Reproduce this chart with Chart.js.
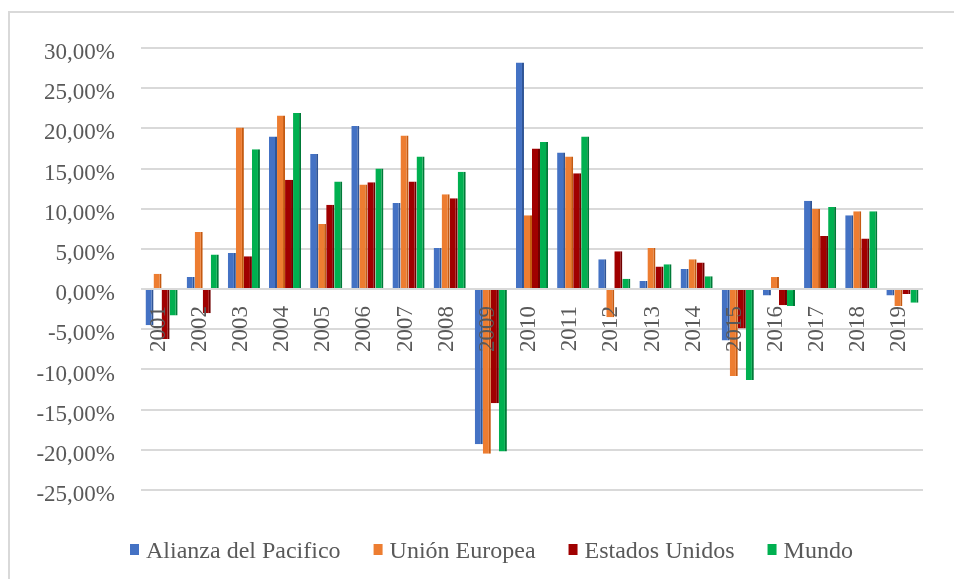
<!DOCTYPE html>
<html>
<head>
<meta charset="utf-8">
<script src="https://cdn.jsdelivr.net/npm/chart.js@4.4.1/dist/chart.umd.min.js"></script>
<style>
  html, body { margin: 0; padding: 0; background: #ffffff; }
  #wrap { position: relative; width: 954px; height: 579px; overflow: hidden; }
  #frame { position: absolute; left: 8px; top: 11px; width: 960px; height: 600px;
           border-top: 2px solid #d9d9d9; border-left: 2px solid #d9d9d9; box-sizing: border-box; }
  canvas { position: absolute; left: 0; top: 0; }
</style>
</head>
<body>
<div id="wrap">
  <div id="frame"></div>
  <canvas id="c" width="954" height="579"></canvas>
</div>
<script>
// ---- data (percent) ----
const years = ['2001','2002','2003','2004','2005','2006','2007','2008','2009','2010',
               '2011','2012','2013','2014','2015','2016','2017','2018','2019'];
const seriesNames = ['Alianza del Pacifico', 'Unión Europea', 'Estados Unidos', 'Mundo'];
const alianzaPacifico = [-4.5, 1.5, 4.5, 19.0, 16.8, 20.3, 10.7, 5.1, -19.3, 28.2,
                         17.0, 3.7, 1.0, 2.5, -6.4, -0.8, 11.0, 9.2, -0.8];
const unionEuropea   = [1.9, 7.1, 20.1, 21.6, 8.1, 13.0, 19.1, 11.8, -20.5, 9.2,
                         16.5, -3.5, 5.1, 3.7, -10.8, 1.5, 10.0, 9.7, -2.1];
const estadosUnidos  = [-6.2, -3.0, 4.1, 13.6, 10.5, 13.3, 13.4, 11.3, -14.2, 17.5,
                         14.4, 4.7, 2.8, 3.3, -4.9, -2.0, 6.6, 6.3, -0.6];
const mundo          = [-3.3, 4.3, 17.4, 21.9, 13.4, 15.0, 16.5, 14.6, -20.2, 18.3,
                         19.0, 1.3, 3.1, 1.6, -11.3, -2.1, 10.2, 9.7, -1.7];
const yMin = -25, yMax = 30, yStep = 5;

const colors = ['#4472C4', '#ED7D31', '#A00000', '#00B050'];
const sideColors = ['#2F5597', '#C55A11', '#700000', '#007A38'];
const values = [alianzaPacifico, unionEuropea, estadosUnidos, mundo];

const serif = "'Liberation Serif', 'Times New Roman', serif";
const textColor = '#595959';

// custom legend drawn on the canvas
const bottomLegend = {
  id: 'bottomLegend',
  afterDraw(chart) {
    const ctx = chart.ctx;
    ctx.save();
    ctx.font = '24px ' + serif;
    ctx.textBaseline = 'alphabetic';
    let x = 130;
    const baseY = 558;
    chart.data.datasets.forEach((ds) => {
      ctx.fillStyle = ds.backgroundColor;
      ctx.fillRect(x, 544, 9, 11);
      x += 16;
      ctx.fillStyle = textColor;
      ctx.fillText(ds.label, x, baseY);
      x += ctx.measureText(ds.label).width + 33;
    });
    ctx.restore();
  }
};

new Chart(document.getElementById('c'), {
  type: 'bar',
  data: {
    labels: years,
    datasets: seriesNames.map((name, i) => ({
      label: name,
      data: values[i],
      backgroundColor: colors[i],
      borderColor: sideColors[i],
      borderWidth: { left: 0, right: 2, top: 0, bottom: 0 },
      borderSkipped: false,
      categoryPercentage: 0.78,
      barPercentage: 1.0
    }))
  },
  options: {
    responsive: false,
    animation: false,
    devicePixelRatio: 1,
    layout: { padding: { top: 48, bottom: 89, left: 0, right: 31 } },
    plugins: {
      legend: { display: false },
      tooltip: { enabled: false }
    },
    scales: {
      x: {
        position: { y: 0 },
        grid: { display: false, drawTicks: false },
        border: { display: false },
        ticks: {
          z: 1,
          color: textColor,
          font: { family: serif, size: 23 },
          minRotation: 90,
          maxRotation: 90,
          padding: 17,
          labelOffset: -3,
          autoSkip: false
        }
      },
      y: {
        min: yMin,
        max: yMax,
        afterFit: (axis) => { axis.width = 141; },
        grid: { color: '#d9d9d9', lineWidth: 2, drawTicks: false },
        border: { display: false },
        ticks: {
          stepSize: yStep,
          color: textColor,
          padding: 26,
          labelOffset: 5,
          font: { family: serif, size: 23 },
          callback: (v) => v.toFixed(2).replace('.', ',') + '%'
        }
      }
    }
  },
  plugins: [bottomLegend]
});
</script>
</body>
</html>
